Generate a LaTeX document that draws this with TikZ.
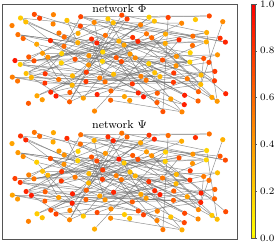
\documentclass[tikz,border=0pt]{standalone}
\usetikzlibrary{backgrounds}
\definecolor{Spine}{HTML}{555555}
\definecolor{EdgeInk}{HTML}{6E6E6E}
\definecolor{LowTone}{HTML}{FFD400}
\definecolor{HighTone}{HTML}{FF1500}
\tikzset{
  vertex/.style={circle, inner sep=0pt, minimum size=1.3mm, draw=none},
  link/.style={draw=EdgeInk, line width=0.35pt, opacity=0.75},
  spine/.style={draw=Spine, line width=0.6pt},
  nettitle/.style={font=\rmfamily\fontsize{8}{9}\selectfont, inner sep=0pt},
  ticklabel/.style={font=\rmfamily\fontsize{7}{8}\selectfont, anchor=west, inner sep=0pt},
}
% #1 name prefix, #2 vertical offset, #3 colour seed
\newcommand{\drawnetwork}[3]{%
  \foreach \i in {1,...,130} {
    \pgfmathtruncatemacro\posseed{\i*37+5}
    \pgfmathsetseed{\posseed}
    \pgfmathsetmacro\px{12+216*rnd}
    \pgfmathsetmacro\py{#2+14+98*rnd}
    \pgfmathtruncatemacro\tintseed{\i*53+#3}
    \pgfmathsetseed{\tintseed}
    \pgfmathtruncatemacro\tint{100*rnd}
    \node[vertex, fill=HighTone!\tint!LowTone] (#1\i) at (\px,\py) {};
  }
  \begin{pgfonlayer}{background}
    \pgfmathsetseed{2024}
    \foreach \k in {1,...,125} {
      \pgfmathtruncatemacro\src{random(1,130)}
      \pgfmathtruncatemacro\dst{random(1,130)}
      \draw[link] (#1\src) -- (#1\dst);
    }
  \end{pgfonlayer}
}

\begin{document}
\begin{tikzpicture}[x=0.25mm, y=-0.25mm]
  \useasboundingbox (0,0) rectangle (277,242);

  % Colour bar built from thin stripes, then its ticks.
  \foreach \s in {0,...,77} {
    \pgfmathtruncatemacro\level{100*\s/77}
    \fill[fill=red!\level!yellow] (251.5,238-3*\s) rectangle (255,235-3*\s);
  }
  \draw[Spine, line width=0.4pt] (251.5,4) rectangle (255,238);
  \foreach \v [count=\j from 0] in {0.0,0.2,0.4,0.6,0.8,1.0} {
    \coordinate (tick\j) at (255,238-46.8*\j);
    \draw[Spine, line width=0.4pt] (tick\j) -- ++(2.5,0);
    \node[ticklabel] (tickLabel\j) at ([xshift=1.2mm]tick\j) {\v};
  }

  % Both layouts share positions and links, only the vertex values differ.
  \drawnetwork{phi}{0}{11}
  \drawnetwork{psi}{118}{907}

  \node[spine, fill=none, minimum width=58.75mm, minimum height=58.75mm, inner sep=0pt] (axes)
    at (119.5,121.5) {};
  \node[nettitle] (phiTitle) at (119.5,9) {network $\Phi$};
  \node[nettitle] (psiTitle) at (119.5,125) {network $\Psi$};
\end{tikzpicture}
\end{document}
